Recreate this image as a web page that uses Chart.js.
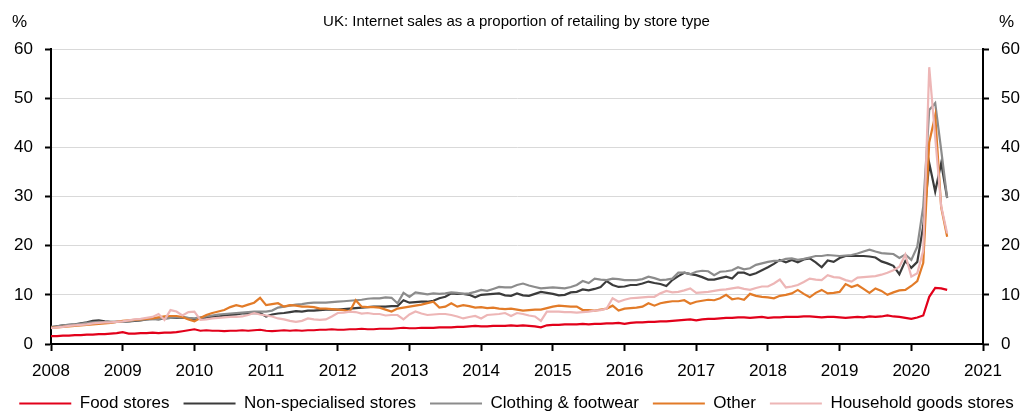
<!DOCTYPE html>
<html>
<head>
<meta charset="utf-8">
<title>UK internet sales by store type</title>
<script src="https://cdn.jsdelivr.net/npm/chart.js@4.4.1/dist/chart.umd.min.js"></script>
<style>
  html, body { margin: 0; padding: 0; background: #fff; }
  canvas { display: block; }
</style>
</head>
<body>
<canvas id="chart" width="1033" height="412"></canvas>
<script>
(function(){
  'use strict';

  // monthly series, Jan 2008 .. Jul 2020 (% of retail sales made online)
  const startYear = 2008;
  const seriesNames = ['Food stores', 'Non-specialised stores', 'Clothing & footwear', 'Other', 'Household goods stores'];

  const foodStores = [
    1.6,1.6,1.7,1.7,1.8,1.8,1.9,1.9,2.0,2.0,2.1,2.2,
    2.4,2.1,2.1,2.2,2.2,2.3,2.2,2.3,2.3,2.4,2.6,2.8,
    3.0,2.7,2.8,2.7,2.7,2.6,2.7,2.7,2.8,2.7,2.8,2.9,
    2.7,2.6,2.7,2.8,2.7,2.8,2.7,2.8,2.8,2.9,2.9,3.0,
    2.9,2.9,3.0,3.0,3.1,3.0,3.0,3.1,3.1,3.1,3.2,3.3,
    3.2,3.2,3.3,3.3,3.3,3.4,3.4,3.4,3.5,3.5,3.6,3.7,
    3.6,3.6,3.7,3.7,3.7,3.8,3.7,3.8,3.7,3.6,3.4,3.8,
    3.9,3.9,4.0,4.0,4.0,4.1,4.0,4.1,4.1,4.2,4.2,4.3,
    4.1,4.3,4.4,4.4,4.5,4.5,4.6,4.6,4.7,4.8,4.9,5.0,
    4.8,5.0,5.1,5.1,5.2,5.3,5.3,5.4,5.4,5.3,5.4,5.5,
    5.3,5.4,5.4,5.5,5.5,5.5,5.6,5.6,5.5,5.4,5.5,5.5,
    5.4,5.3,5.4,5.5,5.4,5.6,5.5,5.6,5.8,5.6,5.5,5.3,
    5.1,5.4,5.8,9.6,11.4,11.3,11.0
  ];
  const nonSpecialised = [
    3.4,3.6,3.8,3.9,4.0,4.2,4.4,4.7,4.8,4.6,4.5,4.5,
    4.5,4.6,4.7,4.8,5.0,5.1,5.0,5.2,5.3,5.3,5.4,5.2,
    5.0,5.2,5.4,5.5,5.6,5.8,5.9,6.0,6.2,6.2,6.3,6.3,
    5.6,6.0,6.2,6.3,6.5,6.7,6.6,6.8,6.8,6.9,7.0,7.0,
    7.0,7.1,7.2,7.3,7.4,7.5,7.6,7.6,7.6,7.7,7.7,8.9,
    8.4,8.5,8.6,8.6,8.8,9.3,9.6,10.3,10.2,10.2,10.0,9.5,
    10.0,10.1,10.2,10.3,9.9,9.8,10.3,9.9,9.8,10.2,10.6,10.4,
    10.2,9.9,10.0,10.5,10.6,11.1,10.9,11.2,11.6,12.8,12.0,11.6,
    11.7,12.0,12.0,12.3,12.7,12.4,12.2,11.8,13.0,13.8,14.5,14.2,
    14.0,13.6,13.1,13.1,13.4,13.7,13.3,14.5,14.5,14.0,14.4,15.0,
    15.6,16.3,17.1,16.6,17.1,16.6,17.2,17.4,16.6,15.6,17.0,16.7,
    17.5,17.9,17.9,17.9,17.9,17.8,17.6,16.8,16.4,15.9,14.2,16.9,
    15.5,16.7,24.0,36.8,31.0,36.8,29.7
  ];
  const clothingFootwear = [
    3.5,3.6,3.8,3.9,4.0,4.1,4.3,4.4,4.5,4.4,4.4,4.5,
    4.5,4.6,4.8,4.9,5.0,5.1,5.1,5.2,5.3,5.4,5.5,5.3,
    5.2,5.4,5.6,5.8,6.0,6.1,6.2,6.3,6.4,6.5,6.6,6.6,
    6.6,6.8,7.4,7.6,7.8,8.0,8.1,8.3,8.4,8.4,8.4,8.5,
    8.6,8.7,8.8,8.9,9.0,9.2,9.3,9.3,9.5,9.4,8.3,10.4,
    9.6,10.5,10.3,10.1,10.3,10.2,10.3,10.5,10.4,10.2,10.3,10.6,
    11.0,10.8,11.2,11.6,11.5,11.5,12.0,12.3,11.9,11.6,11.3,11.4,
    11.5,11.4,11.3,11.6,12.0,12.8,12.4,13.3,13.1,13.0,13.3,13.2,
    13.0,13.0,13.0,13.2,13.7,13.4,13.0,13.1,13.3,14.5,14.5,14.2,
    14.7,14.9,14.8,14.0,14.7,14.8,15.0,15.6,15.2,15.4,16.1,16.4,
    16.7,16.9,16.9,17.3,17.4,17.1,17.3,17.6,17.9,17.9,18.1,18.0,
    17.9,18.0,18.1,18.4,18.8,19.2,18.8,18.5,18.4,18.3,17.5,18.2,
    17.1,19.8,28.0,47.6,49.0,39.5,29.7
  ];
  const otherStores = [
    3.3,3.4,3.5,3.6,3.7,3.8,3.9,4.0,4.1,4.2,4.3,4.5,
    4.7,4.8,4.9,5.0,5.1,5.2,5.4,5.6,5.7,5.7,5.5,5.0,
    4.6,5.3,5.9,6.3,6.6,6.9,7.5,7.9,7.6,8.0,8.4,9.4,
    7.9,8.1,8.3,7.6,7.9,7.8,7.6,7.6,7.5,7.2,7.2,7.1,
    7.0,6.9,6.6,8.9,7.6,7.5,7.5,7.4,7.0,6.6,7.2,7.4,
    7.6,7.8,8.0,8.3,8.6,7.4,7.6,8.3,7.6,7.9,7.7,7.4,
    7.5,7.3,7.4,7.2,7.1,7.2,7.0,6.8,6.9,7.0,7.0,7.3,
    7.6,7.8,7.7,7.6,7.6,6.9,6.9,6.8,7.0,7.2,7.8,6.8,
    7.2,7.3,7.4,7.6,8.3,7.8,8.3,8.5,8.7,8.7,8.9,8.2,
    8.6,8.8,9.0,8.9,9.3,10.0,9.1,9.3,9.0,10.2,9.8,9.6,
    9.5,9.3,9.8,10.0,10.3,11.0,10.2,9.5,10.4,11.0,10.3,10.4,
    10.6,12.2,11.6,12.0,11.2,10.4,11.3,10.8,10.0,10.5,10.9,11.0,
    11.8,12.8,16.5,41.0,46.5,27.8,21.8
  ];
  const householdGoods = [
    3.2,3.4,3.5,3.7,3.8,3.9,4.0,4.2,4.3,4.4,4.4,4.5,
    4.6,4.8,5.0,5.1,5.3,5.5,6.1,4.9,6.9,6.6,5.8,6.5,
    6.6,4.9,5.0,5.2,5.3,5.4,5.5,5.5,5.6,5.9,6.3,6.0,
    5.8,5.6,5.2,5.0,4.7,4.5,4.7,5.2,5.0,4.9,5.0,5.6,
    6.3,6.4,6.6,6.5,6.2,6.3,6.1,6.1,5.8,5.9,5.9,5.0,
    6.0,6.6,6.2,5.9,6.0,6.1,6.1,5.9,5.6,5.2,5.5,5.7,
    5.2,5.9,6.0,6.1,6.3,5.7,6.3,6.1,5.8,5.6,4.7,6.6,
    6.6,6.6,6.5,6.5,6.4,6.5,6.6,6.8,6.9,7.2,9.3,8.6,
    9.0,9.3,9.4,9.5,9.6,9.6,10.3,10.8,10.5,10.6,10.9,11.3,
    10.4,10.5,10.6,10.8,11.0,11.1,11.3,11.5,11.2,11.0,11.4,11.7,
    11.7,12.3,13.1,11.5,11.7,12.0,12.6,13.3,13.1,13.0,14.0,13.6,
    13.5,13.0,12.7,13.5,13.6,13.7,13.8,14.1,14.5,15.0,15.7,18.2,
    13.7,14.4,19.0,56.3,42.0,28.0,22.5
  ];

  const yearTicks = [2008, 2021];
  const yTicks = [0, 60, 10];
  const colors = ['#e2001a', '#3b3b3b', '#8c8c8c', '#e27b28', '#edb6b6'];

  // month i -> fractional year on the linear x axis
  const toPoints = arr => arr.map((v, i) => ({ x: startYear + i / 12, y: v }));

  const allSeries = [foodStores, nonSpecialised, clothingFootwear, otherStores, householdGoods];
  const datasets = allSeries.map((arr, i) => ({
    label: seriesNames[i],
    data: toPoints(arr),
    borderColor: colors[i],
    backgroundColor: colors[i],
    borderWidth: 2.2,
    pointRadius: 0,
    pointStyle: 'line',
    tension: 0,
    order: allSeries.length - 1 - i,   // later series on top
    yAxisID: 'y'
  }));

  // "%" unit captions above both value axes
  const unitMarks = {
    id: 'unitMarks',
    afterDraw(chart){
      const { ctx } = chart;
      ctx.save();
      ctx.font = '17px "Liberation Sans", Arial, sans-serif';
      ctx.fillStyle = '#000';
      ctx.textBaseline = 'middle';
      ctx.textAlign = 'left';
      ctx.fillText('%', 12, 22);
      ctx.fillText('%', 999, 22);
      ctx.restore();
    }
  };

  Chart.defaults.font.family = '"Liberation Sans", Arial, sans-serif';
  Chart.defaults.color = '#000';

  const tickFont = { size: 17 };
  const axisBorder = { color: '#000', width: 2 };

  new Chart(document.getElementById('chart'), {
    type: 'line',
    data: { datasets },
    plugins: [unitMarks],
    options: {
      responsive: false,
      animation: false,
      layout: { padding: { left: 0, right: 0, top: 0, bottom: -10 } },
      scales: {
        x: {
          type: 'linear',
          min: yearTicks[0], max: yearTicks[1],
          ticks: { stepSize: 1, autoSkip: false, maxRotation: 0, font: tickFont, padding: 10, callback: v => String(v) },
          grid: { drawOnChartArea: false, tickLength: 7, tickColor: '#000', tickWidth: 2 },
          border: axisBorder,
          afterFit(s){ s.height = 37; }
        },
        y: {
          position: 'left',
          min: yTicks[0], max: yTicks[1],
          ticks: { stepSize: yTicks[2], font: tickFont, padding: 12 },
          grid: { color: '#d9d9d9', lineWidth: 1, tickLength: 6, tickColor: '#000', tickWidth: 2 },
          border: axisBorder,
          afterFit(s){ s.width = 51; }
        },
        y2: {
          position: 'right',
          min: yTicks[0], max: yTicks[1],
          ticks: { stepSize: yTicks[2], font: tickFont, padding: 12 },
          grid: { drawOnChartArea: false, tickLength: 6, tickColor: '#000', tickWidth: 2 },
          border: axisBorder,
          afterFit(s){ s.width = 50; }
        }
      },
      plugins: {
        title: {
          display: true,
          text: 'UK: Internet sales as a proportion of retailing by store type',
          font: { size: 15, weight: 'normal' },
          color: '#000',
          padding: { top: 13, bottom: 18 }
        },
        legend: {
          position: 'bottom',
          labels: {
            usePointStyle: true,
            pointStyleWidth: 52,
            font: { size: 17 },
            padding: 14,
            sort: (a, b) => a.datasetIndex - b.datasetIndex
          }
        },
        tooltip: { enabled: false }
      }
    }
  });
})();
</script>
</body>
</html>
